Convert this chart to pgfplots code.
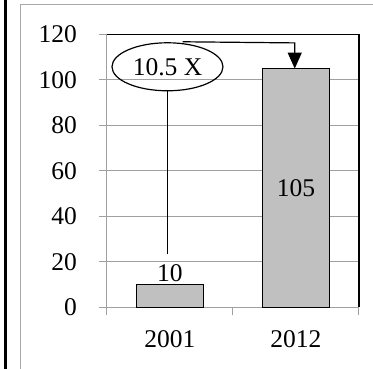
\documentclass[border=0pt]{standalone}
\usepackage{fontspec}
\setmainfont{Liberation Serif}
\usepackage{pgfplots}
\pgfplotsset{compat=1.18}
\usetikzlibrary{shapes.geometric,arrows.meta}
\definecolor{barfill}{HTML}{C0C0C0}
\definecolor{gridgray}{HTML}{A0A0A0}
\definecolor{framegray}{HTML}{A8A8A8}
\begin{document}
\begin{tikzpicture}[x=1pt,y=1pt,font=\fontsize{25.5}{30}\selectfont]
\path[use as bounding box] (0,0) rectangle (373,369);
% page frame
\fill[black] (4,0) rectangle (6.7,369);
\draw[framegray, line width=1pt] (20.5,0) -- (20.5,364.5) -- (373,364.5);
\begin{axis}[
  at={(107pt,61.7pt)}, anchor=south west,
  scale only axis, width=252pt, height=272.8pt,
  xmin=-0.5, xmax=1.5, ymin=0, ymax=120,
  ytick={0,20,...,120},
  xtick={-0.5,0.5,1.5}, xticklabels={},
  extra x ticks={0,1}, extra x tick labels={2001,2012},
  extra x tick style={major tick length=0pt, grid=none},
  axis lines=left, axis line style={-, gridgray, line width=1pt},
  ymajorgrids, grid style={gridgray, line width=1pt},
  tick align=outside, major tick length=8pt,
  tick style={gridgray, line width=1pt},
  /pgf/number format/assume math mode=true,
  yticklabel style={anchor=east, inner sep=0pt, xshift=-22pt},
  xticklabel style={anchor=north, inner sep=0pt, yshift=-23pt},
  clip=false,
  ybar, bar width=67pt,
]
\addplot[fill=barfill, draw=black, line width=1.3pt] coordinates {(0,10) (1,105)};
% value labels
\node[anchor=south, inner sep=0pt, yshift=3pt] at (axis cs:0,10) {10};
\node at (axis cs:1,52.5) {105};
% top and right border of the plot area
\draw[black, line width=1.3pt] (rel axis cs:0,1) -- (rel axis cs:1,1) -- (rel axis cs:1,0);
% growth callout
\node[draw, ellipse, line width=1.2pt, minimum width=111pt, minimum height=48pt, inner sep=0pt] (callout) at (axis cs:-0.02,105.8) {10.5 X};
\draw[line width=1.2pt] (callout.south) -- (axis cs:-0.02,23.4);
\draw[line width=1.2pt, -{Triangle[length=16pt,width=14pt]}] (axis cs:0.1,116.8) -- (axis cs:0.99,116.3) -- (axis cs:0.99,105);
\end{axis}
\end{tikzpicture}
\end{document}
